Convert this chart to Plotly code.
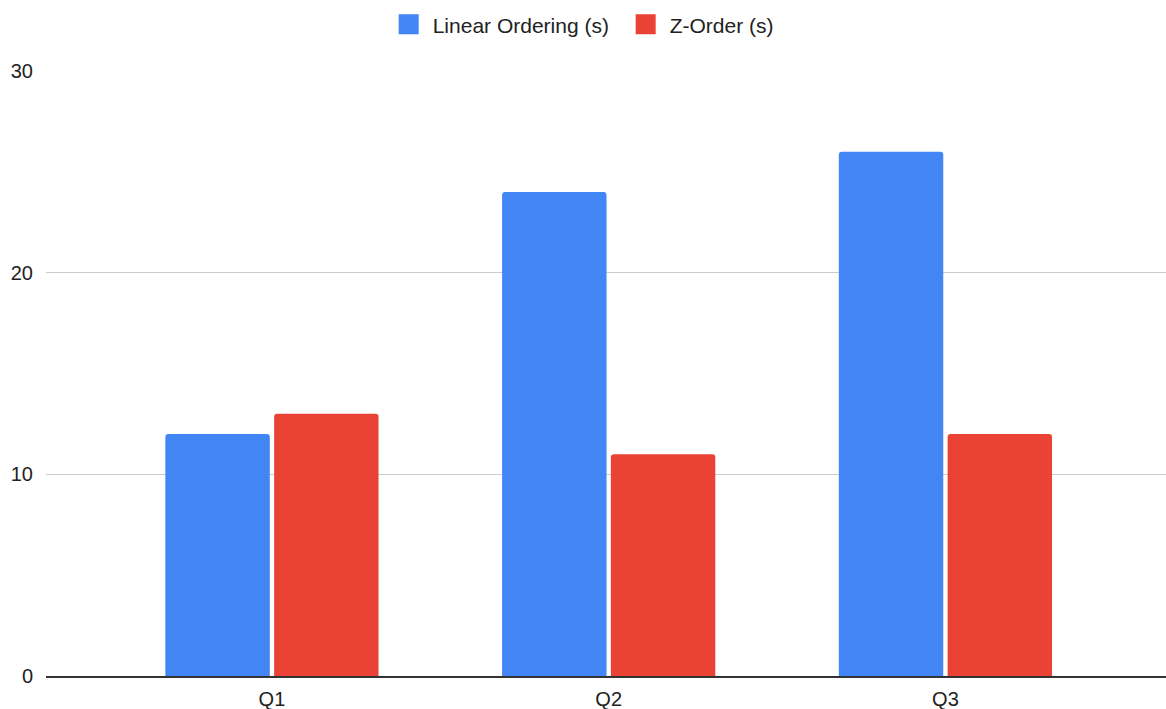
import plotly.graph_objects as go

categories = ["Q1", "Q2", "Q3"]
linear_ordering = [12, 24, 26]
z_order = [13, 11, 12]
y_ticks = [0, 10, 20, 30]
series_names = ["Linear Ordering (s)", "Z-Order (s)"]
series_colors = ["#4285F4", "#EA4335"]

FONT = "Liberation Sans, Arial, sans-serif"

fig = go.Figure()
for name, vals, col in zip(series_names, [linear_ordering, z_order], series_colors):
    fig.add_trace(go.Bar(name=name, x=categories, y=vals, showlegend=False,
                         legendgroup=name,
                         marker=dict(color=col, line=dict(width=0))))
# legend-only entries with larger square swatches
for name, col in zip(series_names, series_colors):
    fig.add_trace(go.Scatter(name=name, x=[None], y=[None], mode="markers",
                             legendgroup=name, hoverinfo="skip",
                             marker=dict(symbol="square", size=16, color=col,
                                         line=dict(color=col, width=4))))

fig.update_layout(
    width=1166, height=709,
    margin=dict(l=46, r=0, t=71, b=33, pad=0),
    paper_bgcolor="white", plot_bgcolor="white",
    barmode="group", bargap=0.354, bargroupgap=0.04,
    barcornerradius=3,
    font=dict(family=FONT, size=20, color="#222222"),
    legend=dict(orientation="h", x=0.514, xanchor="center", y=1.0766, yanchor="middle",
                font=dict(family=FONT, size=21, color="#222222"), bgcolor="rgba(0,0,0,0)",
                traceorder="normal", itemwidth=38, entrywidth=184, entrywidthmode="pixels"),
    showlegend=True,
)
fig.update_xaxes(range=[-0.671, 2.655], showgrid=False, showline=True, linecolor="#333333",
                 linewidth=1.5, ticks="", tickfont=dict(size=20, color="#222222"),
                 ticklabelstandoff=4, fixedrange=True)
fig.update_yaxes(range=[0, 30], tickvals=y_ticks, showgrid=True, gridcolor="#CCCCCC",
                 gridwidth=1, zeroline=False, showline=False, ticks="",
                 tickfont=dict(size=20, color="#222222"), ticklabelstandoff=12, fixedrange=True)

fig.write_html("out.html", config={"displayModeBar": False})
